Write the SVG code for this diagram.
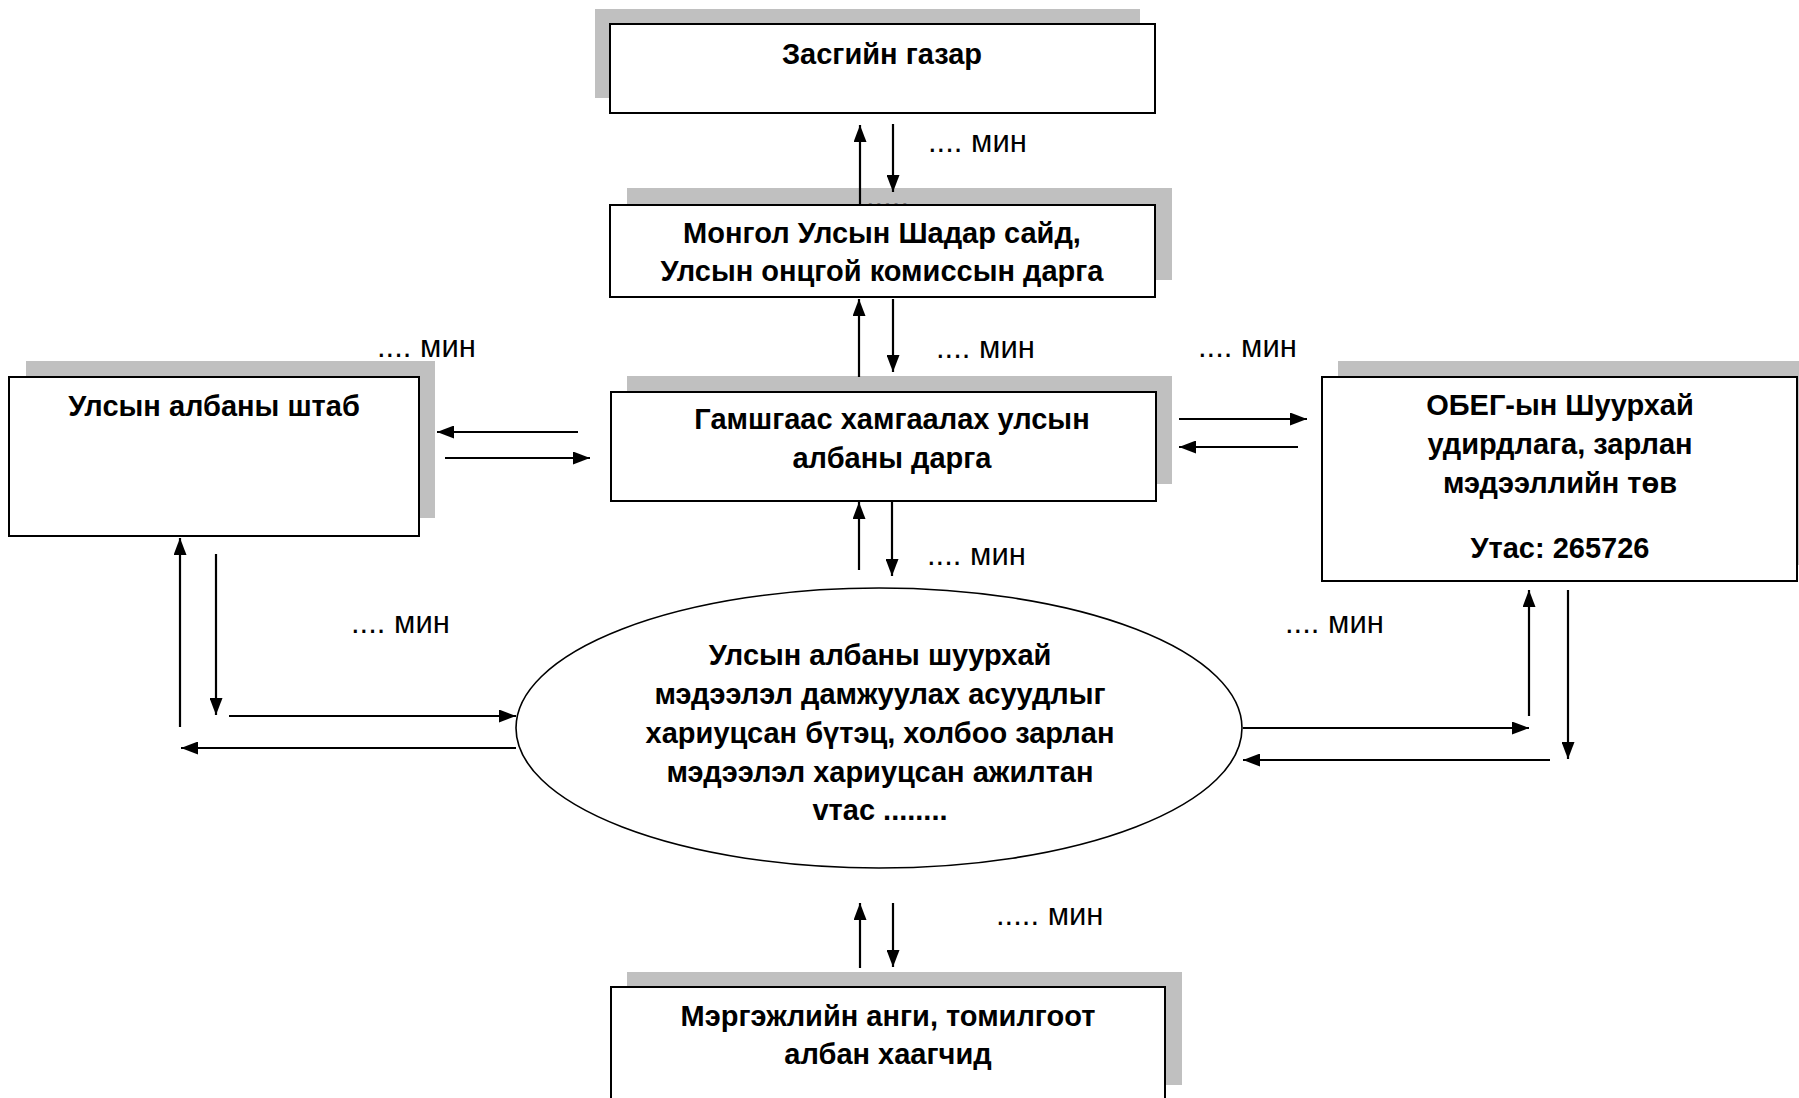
<svg xmlns="http://www.w3.org/2000/svg" width="1799" height="1098" viewBox="0 0 1799 1098">
<defs>
<style>
.sh{fill:#c0c0c0;stroke:none}
.bx{fill:#fff;stroke:#000;stroke-width:2}
.t{font-family:"Liberation Sans",Arial,sans-serif;font-weight:bold;font-size:29px;fill:#000;text-anchor:middle}
.m{font-family:"Liberation Sans",Arial,sans-serif;font-size:31px;fill:#000}
.c line{stroke:#000;stroke-width:2.2;marker-end:url(#ah)}
</style>
<marker id="ah" markerUnits="userSpaceOnUse" markerWidth="17" markerHeight="13" refX="17" refY="6.5" orient="auto">
<path d="M0,0 L17,6.5 L0,13 z" fill="#000"/>
</marker>
</defs>
<rect width="1799" height="1098" fill="#fff"/>

<g id="node-zasgiin-gazar">
<rect class="sh" x="595" y="9" width="545" height="89"/>
<rect class="bx" x="610" y="24" width="545" height="89"/>
<text class="t" x="882" y="64">Засгийн газар</text>
</g>

<g id="node-shadar-said">
<rect class="sh" x="627" y="188" width="545" height="92"/>
<text class="m" x="866" y="207">.....</text>
<rect class="bx" x="610" y="205" width="545" height="92"/>
<text class="t" x="882" y="243">Монгол Улсын Шадар сайд,</text>
<text class="t" x="882" y="281">Улсын онцгой комиссын дарга</text>
</g>

<g id="node-gamshgaas">
<rect class="sh" x="627" y="376" width="545" height="108"/>
<rect class="bx" x="611" y="392" width="545" height="109"/>
<text class="t" x="892" y="429">Гамшгаас хамгаалах улсын</text>
<text class="t" x="892" y="468">албаны дарга</text>
</g>

<g id="node-shtab">
<rect class="sh" x="26" y="361" width="409" height="157"/>
<rect class="bx" x="9" y="377" width="410" height="159"/>
<text class="t" x="214" y="416">Улсын албаны штаб</text>
</g>

<g id="node-obeg">
<rect class="sh" x="1338" y="361" width="475" height="204"/>
<rect class="bx" x="1322" y="377" width="475" height="204"/>
<text class="t" x="1560" y="415">ОБЕГ-ын Шуурхай</text>
<text class="t" x="1560" y="454">удирдлага, зарлан</text>
<text class="t" x="1560" y="493">мэдээллийн төв</text>
<text class="t" x="1560" y="558">Утас: 265726</text>
</g>

<g id="node-ellipse">
<ellipse cx="879" cy="728" rx="363" ry="140" fill="#fff" stroke="#000" stroke-width="1.6"/>
<text class="t" x="880" y="665">Улсын албаны шуурхай</text>
<text class="t" x="880" y="704">мэдээлэл дамжуулах асуудлыг</text>
<text class="t" x="880" y="743">хариуцсан бүтэц, холбоо зарлан</text>
<text class="t" x="880" y="782">мэдээлэл хариуцсан ажилтан</text>
<text class="t" x="880" y="820">vтас ........</text>
</g>

<g id="node-mergejliin">
<rect class="sh" x="627" y="972" width="555" height="113"/>
<rect class="bx" x="611" y="987" width="554" height="114"/>
<text class="t" x="888" y="1026">Мэргэжлийн анги, томилгоот</text>
<text class="t" x="888" y="1064">албан хаагчид</text>
</g>

<g id="labels">
<text class="m" x="928" y="152">.... мин</text>
<text class="m" x="377" y="357">.... мин</text>
<text class="m" x="936" y="358">.... мин</text>
<text class="m" x="1198" y="357">.... мин</text>
<text class="m" x="927" y="565">.... мин</text>
<text class="m" x="351" y="633">.... мин</text>
<text class="m" x="1285" y="633">.... мин</text>
<text class="m" x="996" y="925">..... мин</text>
</g>

<g id="connectors" class="c">
<line x1="860" y1="205" x2="860" y2="125"/>
<line x1="893" y1="124" x2="893" y2="192"/>
<line x1="859" y1="377" x2="859" y2="299"/>
<line x1="893" y1="299" x2="893" y2="372"/>
<line x1="578" y1="432" x2="437" y2="432"/>
<line x1="445" y1="458" x2="590" y2="458"/>
<line x1="1179" y1="419" x2="1307" y2="419"/>
<line x1="1298" y1="447" x2="1179" y2="447"/>
<line x1="859" y1="570" x2="859" y2="502"/>
<line x1="892" y1="502" x2="892" y2="576"/>
<line x1="180" y1="727" x2="180" y2="538"/>
<line x1="216" y1="554" x2="216" y2="715"/>
<line x1="229" y1="716" x2="516" y2="716"/>
<line x1="516" y1="748" x2="181" y2="748"/>
<line x1="1529" y1="716" x2="1529" y2="590"/>
<line x1="1568" y1="590" x2="1568" y2="759"/>
<line x1="1243" y1="728" x2="1529" y2="728"/>
<line x1="1550" y1="760" x2="1243" y2="760"/>
<line x1="860" y1="968" x2="860" y2="903"/>
<line x1="893" y1="903" x2="893" y2="967"/>
</g>
</svg>
